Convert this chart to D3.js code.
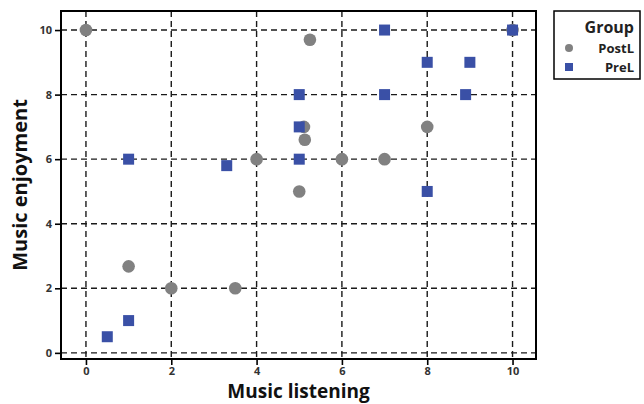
<!DOCTYPE html>
<html>
<head>
<meta charset="utf-8">
<script src="https://cdn.jsdelivr.net/npm/d3@7"></script>
<style>
  html, body { margin: 0; padding: 0; background: #fff; }
  svg { display: block; }
  text { font-family: "Open Sans", "DejaVu Sans", sans-serif; }
</style>
</head>
<body>
<svg id="chart" width="644" height="404"></svg>
<script>
// ---- data ----
const postLX = [0, 5.25, 5.11, 5.13, 4, 6, 7, 8, 5, 1, 2, 3.5, 10];
const postLY = [10, 9.7, 7.0, 6.6, 6, 6, 6, 7, 5, 2.68, 2, 2, 10];
const preLX = [7, 10, 8, 9, 5, 7, 8.9, 5, 1, 3.3, 5, 8, 1, 0.5];
const preLY = [10, 10, 9, 9, 8, 8, 8, 7, 6, 5.8, 6, 5, 1, 0.5];
const xTicks = [0, 2, 4, 6, 8, 10];
const yTicks = [0, 2, 4, 6, 8, 10];
const groups = ["PostL", "PreL"];
const colors = { PostL: "#818181", PreL: "#3a50a6" };

const svg = d3.select("#chart");
const L = 61, R = 536, T = 11, B = 359;

const x = d3.scaleLinear().domain([-0.585, 10.55]).range([L, R]);
const y = d3.scaleLinear().domain([-0.19, 10.59]).range([B, T]);

// grid
const grid = svg.append("g");
grid.selectAll("line.gx").data(xTicks).join("line")
  .attr("x1", d => x(d)).attr("x2", d => x(d))
  .attr("y1", T).attr("y2", B)
  .attr("stroke", "#1a1a1a").attr("stroke-width", 1.4)
  .attr("stroke-dasharray", "6,4");
grid.selectAll("line.gy").data(yTicks).join("line")
  .attr("x1", L).attr("x2", R)
  .attr("y1", d => y(d)).attr("y2", d => y(d))
  .attr("stroke", "#1a1a1a").attr("stroke-width", 1.4)
  .attr("stroke-dasharray", "6,4");

// axes
const xAxis = svg.append("g").attr("transform", `translate(0,${B})`)
  .call(d3.axisBottom(x).tickValues(xTicks).tickSize(6).tickPadding(2).tickFormat(d3.format("d")));
const yAxis = svg.append("g").attr("transform", `translate(${L},0)`)
  .call(d3.axisLeft(y).tickValues(yTicks).tickSize(6).tickPadding(3).tickFormat(d3.format("d")));
[xAxis, yAxis].forEach(a => {
  a.select(".domain").remove();
  a.selectAll(".tick line").attr("stroke", "#000").attr("stroke-width", 1.6);
  a.selectAll(".tick text").attr("fill", "#333").attr("font-size", 11)
    .attr("font-weight", "bold").attr("font-family", "'Open Sans', sans-serif");
});

// frame
svg.append("rect").attr("x", L).attr("y", T).attr("width", R - L).attr("height", B - T)
  .attr("fill", "none").attr("stroke", "#000").attr("stroke-width", 2);

// points
const postData = postLX.map((v, i) => ({ x: v, y: postLY[i] }));
const preData = preLX.map((v, i) => ({ x: v, y: preLY[i] }));
svg.append("g").selectAll("circle").data(postData).join("circle")
  .attr("cx", d => x(d.x)).attr("cy", d => y(d.y)).attr("r", 6.3)
  .attr("fill", colors.PostL);
const sq = 11;
svg.append("g").selectAll("rect").data(preData).join("rect")
  .attr("x", d => x(d.x) - sq / 2).attr("y", d => y(d.y) - sq / 2)
  .attr("width", sq).attr("height", sq)
  .attr("fill", colors.PreL);

// axis titles
svg.append("text").attr("x", (L + R) / 2).attr("y", 398)
  .attr("text-anchor", "middle").attr("font-size", 19).attr("font-weight", "bold")
  .attr("fill", "#111").text("Music listening");
svg.append("text").attr("transform", `translate(27,${(T + B) / 2}) rotate(-90)`)
  .attr("text-anchor", "middle").attr("font-size", 20).attr("font-weight", "bold")
  .attr("fill", "#111").text("Music enjoyment");

// legend
const lg = svg.append("g");
lg.append("rect").attr("x", 554).attr("y", 11).attr("width", 86).attr("height", 68)
  .attr("fill", "#fff").attr("stroke", "#000").attr("stroke-width", 1.5);
lg.append("text").attr("x", 634).attr("y", 33).attr("text-anchor", "end")
  .attr("font-size", 16).attr("font-weight", "bold").attr("fill", "#222").text("Group");
groups.forEach((g, i) => {
  const cy = 48 + i * 19;
  if (g === "PostL") {
    lg.append("circle").attr("cx", 569).attr("cy", cy).attr("r", 4).attr("fill", colors[g]);
  } else {
    lg.append("rect").attr("x", 565).attr("y", cy - 4).attr("width", 8).attr("height", 8).attr("fill", colors[g]);
  }
  lg.append("text").attr("x", 634).attr("y", cy + 5).attr("text-anchor", "end")
    .attr("font-size", 13).attr("font-weight", "bold").attr("fill", "#222").text(g);
});
</script>
</body>
</html>
